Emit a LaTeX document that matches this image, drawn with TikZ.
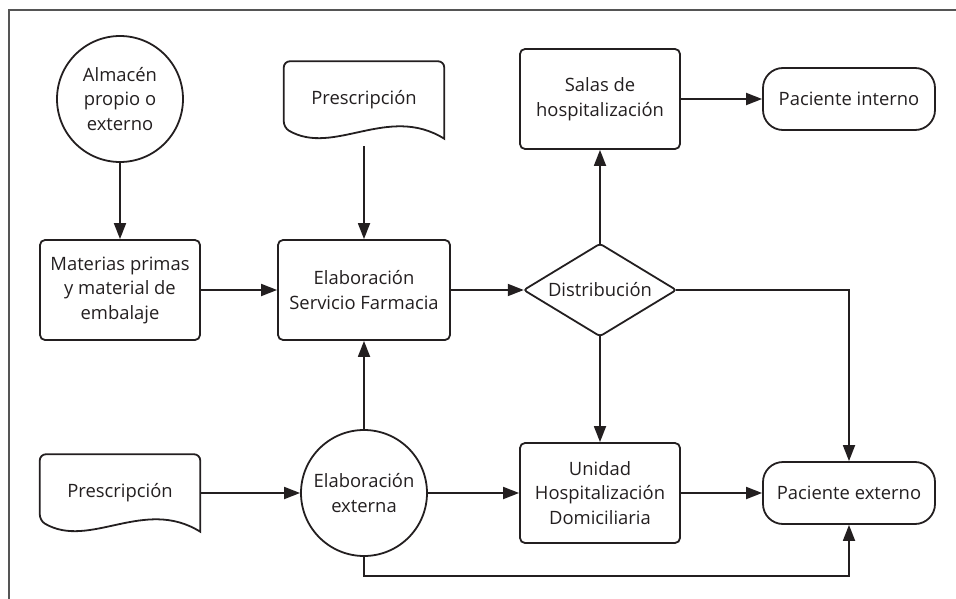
\documentclass[tikz,border=0pt]{standalone}
\usepackage{fontspec}
\setmainfont{Open Sans}
\usetikzlibrary{arrows.meta}
\usetikzlibrary{calc}

\definecolor{ink}{HTML}{231F20}
\definecolor{framegray}{HTML}{555555}

\tikzset{
  box/.style = {draw, line width=1.8pt, rounded corners=5pt, align=center, inner sep=0pt},
  circ/.style = {draw, circle, line width=1.8pt, align=center, minimum size=126pt, inner sep=0pt},
  pill/.style = {draw, line width=1.8pt, rounded corners=20pt, minimum width=172pt, minimum height=62pt, inner sep=0pt},
  decision/.style = {minimum width=152pt, minimum height=92pt, inner sep=0pt},
  doc/.style = {minimum width=160pt, minimum height=77pt, inner sep=0pt},
  arr/.style = {line width=1.8pt, -{Triangle[length=16pt,width=12pt]}},
}

% document shape with a wavy bottom edge
\newcommand{\docshape}[1]{%
  \draw[line width=1.8pt] ($(#1.south west)+(0,-11)$) .. controls +(50,29) and +(-56,-35) .. (#1.south east)
    [rounded corners=6pt] -- (#1.north east) -- (#1.north west) -- cycle;
}

\begin{document}
\begin{tikzpicture}[x=1pt, y=-1pt, color=ink, font=\fontsize{18.4}{24.5}\selectfont]
      \useasboundingbox (0,0) rectangle (956,599);
      \draw[framegray, line width=2pt] (9,610) -- (9,10) -- (966,10);

      \node[circ] (almacen) at (120,99) {Almac\'en\\propio o\\externo};
      \node[box, minimum width=160pt, minimum height=100pt] (materias) at (120,290) {Materias primas\\y material de\\embalaje};
      \node[doc] (presc1) at (364,100) {Prescripci\'on};
      \docshape{presc1}
      \node[box, minimum width=172pt, minimum height=100pt] (farmacia) at (364,290) {Elaboraci\'on\\Servicio Farmacia};
      \node[box, minimum width=160pt, minimum height=100pt] (salas) at (600,99) {Salas de\\hospitalizaci\'on};
      \node[pill] (interno) at (849,99) {Paciente interno};
      \node[decision] (distrib) at (600,290) {Distribuci\'on};
      \draw[line width=1.8pt, rounded corners=3pt] (distrib.north) -- (distrib.east) -- (distrib.south) -- (distrib.west) -- cycle;

      \node[doc] (presc2) at (120,493) {Prescripci\'on};
      \docshape{presc2}
      \node[circ] (externa) at (364,493) {Elaboraci\'on\\externa};
      \node[box, minimum width=160pt, minimum height=100pt] (unidad) at (600,493) {Unidad\\Hospitalizaci\'on\\Domiciliaria};
      \node[pill] (pexterno) at (849,493) {Paciente externo};

      \draw[arr] (almacen) -- (materias);
      \draw[arr, shorten <=7.5pt] (presc1) -- (farmacia);
      \draw[arr] (materias) -- (farmacia);
      \draw[arr] (farmacia) -- (distrib);
      \draw[arr] (distrib) -- (salas);
      \draw[arr] (salas) -- (interno);
      \draw[arr] (distrib.east) -| (pexterno.north);
      \draw[arr] (distrib) -- (unidad);
      \draw[arr] (presc2.east) -- (externa);
      \draw[arr] (externa) -- (unidad);
      \draw[arr] (unidad) -- (pexterno);
      \draw[arr] (externa) -- (farmacia);
      \draw[arr] (externa.south) -- ++(0,19) -| (pexterno.south);
    \end{tikzpicture}
\end{document}
